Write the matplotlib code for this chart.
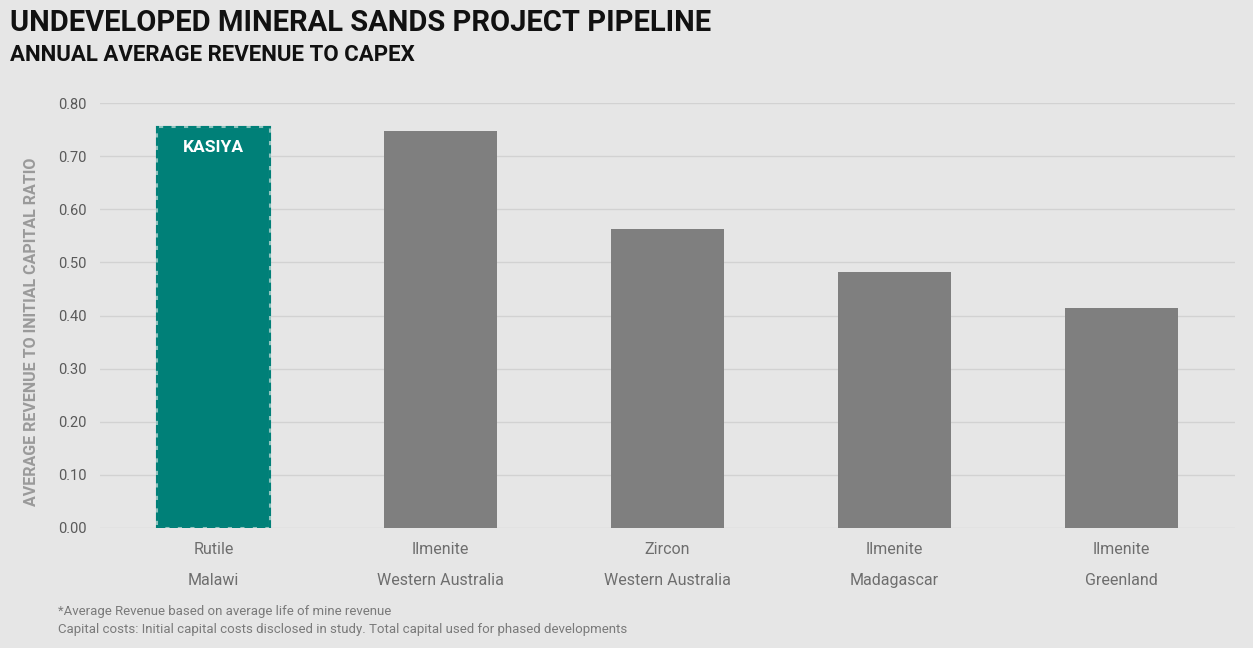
import matplotlib
matplotlib.use("Agg")
import matplotlib.pyplot as plt

# data
minerals = ["Rutile", "Ilmenite", "Zircon", "Ilmenite", "Ilmenite"]
locations = ["Malawi", "Western Australia", "Western Australia", "Madagascar", "Greenland"]
ratios = [0.755, 0.747, 0.563, 0.482, 0.414]
yticks = [0.0, 0.1, 0.2, 0.3, 0.4, 0.5, 0.6, 0.7, 0.8]

BG = "#e6e6e6"
TEAL = "#008078"
GREY = "#7f7f7f"
plt.rcParams["font.family"] = ["Roboto", "DejaVu Sans"]

fig = plt.figure(figsize=(12.53, 6.48), dpi=100, facecolor=BG)
ax = fig.add_axes([0.0798, 0.1852, 0.9058, 0.6558])
ax.set_facecolor(BG)

x = list(range(len(ratios)))
colors = [TEAL] + [GREY] * (len(ratios) - 1)
bars = ax.bar(x, ratios, width=0.5, color=colors, zorder=3)
bars[0].set_edgecolor("#8ec3be")
bars[0].set_linewidth(1.5)
# dashed teal border on top of the light edge -> light gaps
ax.bar(x[0], ratios[0], width=0.5, facecolor="none", edgecolor=TEAL,
       linewidth=1.5, linestyle=(0, (4, 2)), zorder=4)

ax.text(x[0], ratios[0] - 0.025, "KASIYA", ha="center", va="top",
        color="white", fontsize=12.5, fontweight="bold", zorder=5)

ax.set_xlim(-0.5, 4.5)
ax.set_ylim(0, 0.8)
ax.set_yticks(yticks)
ax.set_yticklabels([f"{v:.2f}" for v in yticks])
ax.tick_params(axis="y", length=0, pad=9.5, labelsize=10.5, labelcolor="#595959")
ax.set_xticks([])
ax.grid(axis="y", color="#d2d2d2", linewidth=1, zorder=0)
for s in ax.spines.values():
    s.set_visible(False)

# two-line category labels
for i in x:
    ax.annotate(minerals[i], (i, 0), xytext=(0, -15.5), textcoords="offset points",
                ha="center", va="center", fontsize=11.5, color="#6e6e6e")
    ax.annotate(locations[i], (i, 0), xytext=(0, -38), textcoords="offset points",
                ha="center", va="center", fontsize=11.5, color="#6e6e6e")

fig.text(32 / 1253, 1 - 332 / 648, "AVERAGE REVENUE TO INITIAL CAPITAL RATIO",
         rotation=90, ha="center", va="center", fontsize=11.5,
         fontweight="bold", color="#9a9a9a")

fig.text(10 / 1253, 1 - 23 / 648, "UNDEVELOPED MINERAL SANDS PROJECT PIPELINE",
         ha="left", va="center", fontsize=21, fontweight="bold", color="#111111")
fig.text(10 / 1253, 1 - 55 / 648, "ANNUAL AVERAGE REVENUE TO CAPEX",
         ha="left", va="center", fontsize=16, fontweight="bold", color="#111111")

fig.text(58 / 1253, 1 - 612 / 648, "*Average Revenue based on average life of mine revenue",
         ha="left", va="center", fontsize=9.5, color="#7a7a7a")
fig.text(58 / 1253, 1 - 630 / 648,
         "Capital costs: Initial capital costs disclosed in study. Total capital used for phased developments",
         ha="left", va="center", fontsize=9.5, color="#7a7a7a")

fig.savefig("out.png", dpi=100, facecolor=BG)
